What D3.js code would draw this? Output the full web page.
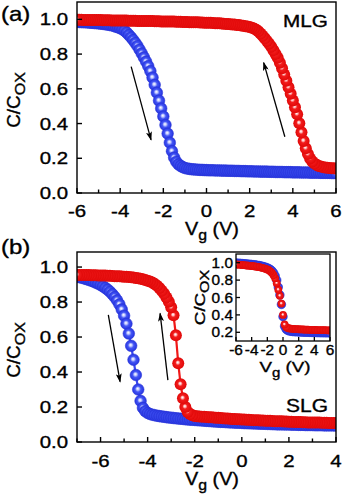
<!DOCTYPE html>
<html>
<head>
<meta charset="utf-8">
<script src="https://cdn.jsdelivr.net/npm/d3@7"></script>
<style>
  body { margin: 0; background: #fff; }
  text { font-family: "Liberation Sans", Arial, sans-serif; fill: #000; stroke: #000; stroke-width: 0.35px; }
</style>
</head>
<body>
<div id="chart"></div>
<script>
var width = 343,
    height = 500;

// ---- data -------------------------------------------------------------
// gate voltage sweeps (V)
var vgA  = d3.range(-60, 61).map(function(i) { return i / 10; });   // -6 .. 6
var vgB  = d3.range(-70, 41).map(function(i) { return i / 10; });   // -7 .. 4
var vgIn = d3.range(-30, 31).map(function(i) { return i / 5; });    // -6 .. 6

// (a) MLG, forward sweep (blue)
var mlgFwd = [
  0.985,0.985,0.984,0.984,0.983,0.982,0.981,0.980,0.979,0.978,
  0.977,0.975,0.974,0.972,0.970,0.968,0.966,0.962,0.958,0.954,
  0.949,0.943,0.935,0.924,0.911,0.897,0.882,0.865,0.847,0.826,
  0.804,0.781,0.757,0.731,0.702,0.665,0.623,0.578,0.532,0.487,
  0.441,0.392,0.342,0.290,0.241,0.204,0.180,0.165,0.156,0.149,
  0.144,0.141,0.139,0.137,0.136,0.135,0.134,0.133,0.133,0.132,
  0.132,
  0.131,0.131,0.131,0.130,0.130,0.130,0.129,0.129,0.129,0.128,
  0.128,0.128,0.127,0.127,0.127,0.126,0.126,0.126,0.125,0.125,
  0.125,0.124,0.124,0.124,0.123,0.123,0.123,0.123,0.122,0.122,
  0.122,0.121,0.121,0.121,0.121,0.120,0.120,0.120,0.120,0.119,
  0.119,0.119,0.119,0.118,0.118,0.118,0.118,0.117,0.117,0.117,
  0.117,0.117,0.116,0.116,0.116,0.116,0.116,0.115,0.115,0.115
];
// (a) MLG, backward sweep (red)
var mlgRev = [
  0.998,0.998,0.998,0.997,0.997,0.997,0.997,0.996,0.996,0.996,
  0.996,0.996,0.995,0.995,0.995,0.995,0.994,0.994,0.994,0.994,
  0.993,
  0.993,0.993,0.993,0.992,0.992,0.992,0.992,0.991,0.991,0.991,
  0.991,0.990,0.990,0.990,0.990,0.989,0.989,0.989,0.988,0.988,
  0.988,0.988,0.987,0.987,0.987,0.986,0.986,0.986,0.985,0.985,
  0.985,0.984,0.984,0.984,0.983,0.983,0.982,0.982,0.981,0.981,
  0.980,0.980,0.979,0.978,0.978,0.977,0.976,0.975,0.974,0.973,
  0.972,0.971,0.970,0.968,0.967,0.965,0.963,0.961,0.959,0.956,
  0.952,0.947,0.940,0.931,0.918,0.905,0.891,0.876,0.860,0.842,
  0.822,0.801,0.779,0.750,0.718,0.683,0.647,0.609,0.572,0.533,
  0.494,0.454,0.402,0.350,0.300,0.258,0.224,0.199,0.182,0.170,
  0.162,0.156,0.152,0.149,0.147,0.145,0.144,0.143,0.142,0.141
];

// (b) SLG, forward sweep (blue)
var slgFwd = [
  0.945,
  0.942,0.939,0.935,0.931,0.927,0.922,0.917,0.911,0.905,0.898,
  0.890,0.881,0.871,0.859,0.845,0.829,0.810,0.787,0.758,0.722,
  0.676,0.620,0.550,0.470,0.383,0.300,0.235,0.195,0.176,0.166,
  0.160,0.156,0.153,0.150,0.148,0.146,0.144,0.142,0.140,0.139,
  0.137,0.136,0.134,0.133,0.132,0.130,0.129,0.128,0.127,0.126,
  0.125,0.124,0.123,0.122,0.121,0.120,0.119,0.118,0.117,0.116,
  0.115,0.115,0.114,0.113,0.112,0.112,0.111,0.110,0.110,0.109,
  0.108,0.108,0.107,0.107,0.106,0.106,0.105,0.105,0.104,0.104,
  0.103,0.103,0.102,0.102,0.101,0.101,0.101,0.100,0.100,0.100,
  0.099,0.099,0.099,0.098,0.098,0.098,0.097,0.097,0.097,0.097,
  0.096,0.096,0.096,0.096,0.095,0.095,0.095,0.095,0.095,0.094
];
// (b) SLG, backward sweep (red)
var slgRev = [
  0.955,
  0.955,0.955,0.954,0.954,0.954,0.953,0.953,0.953,0.952,0.952,
  0.951,0.951,0.950,0.950,0.949,0.948,0.948,0.947,0.946,0.945,
  0.944,0.943,0.941,0.940,0.938,0.936,0.933,0.930,0.926,0.922,
  0.917,0.911,0.903,0.893,0.880,0.865,0.847,0.826,0.802,0.770,
  0.724,0.610,0.450,0.330,0.250,0.200,0.172,0.160,0.153,0.149,
  0.147,0.146,0.145,0.144,0.143,0.142,0.141,0.140,0.139,0.138,
  0.137,0.136,0.135,0.134,0.133,0.132,0.131,0.130,0.130,0.129,
  0.128,0.127,0.127,0.126,0.125,0.125,0.124,0.123,0.123,0.122,
  0.121,0.121,0.120,0.119,0.119,0.118,0.118,0.117,0.117,0.116,
  0.116,0.115,0.115,0.114,0.114,0.113,0.113,0.112,0.112,0.112,
  0.111,0.111,0.111,0.110,0.110,0.110,0.109,0.109,0.109,0.108
];

// (b) inset, forward (blue) and backward (red)
var insFwd = [
  0.995,0.994,0.993,0.991,0.990,0.988,0.987,0.985,0.983,0.981,
  0.979,0.977,0.975,0.972,0.969,0.966,0.962,0.958,0.953,0.947,
  0.940,0.932,0.921,0.906,0.884,0.850,0.800,0.720,0.630,0.520,
  0.380,0.270,0.235,0.222,0.216,0.212,0.210,0.208,0.207,0.206,
  0.205,0.204,0.203,0.202,0.202,0.201,0.200,0.200,0.199,0.199,
  0.198,0.198,0.197,0.197,0.196,0.196,0.196,0.195,0.195,0.195,0.194
];
var insRev = [
  0.980,0.979,0.977,0.976,0.974,0.972,0.970,0.968,0.966,0.964,
  0.962,0.960,0.957,0.954,0.951,0.948,0.944,0.940,0.935,0.929,
  0.922,0.913,0.900,0.882,0.857,0.820,0.765,0.690,0.620,0.530,
  0.400,0.290,0.260,0.250,0.245,0.242,0.240,0.238,0.237,0.236,
  0.235,0.234,0.233,0.232,0.231,0.230,0.230,0.229,0.228,0.228,
  0.227,0.227,0.226,0.226,0.225,0.225,0.224,0.224,0.223,0.223,0.222
];

// sweep-direction arrows, in data units [x1, y1, x2, y2]
var arrowsA = [[-3.49, 0.728, -2.57, 0.306], [3.63, 0.324, 2.65, 0.751]];
var arrowsB = [[-5.67, 0.726, -5.17, 0.345], [-3.14, 0.354, -3.47, 0.735]];

// ticks
var xTicksA  = [-6, -4, -2, 0, 2, 4, 6],
    xMinorA  = [-5, -3, -1, 1, 3, 5],
    xTicksB  = [-6, -4, -2, 0, 2, 4],
    xMinorB  = [-7, -5, -3, -1, 1, 3],
    yTicks   = [0, 0.2, 0.4, 0.6, 0.8, 1.0],
    xTicksIn = [-6, -4, -2, 0, 2, 4, 6],
    yTicksIn = [0.2, 0.4, 0.6, 0.8, 1.0];

// ---- svg --------------------------------------------------------------
var svg = d3.select("#chart").append("svg")
    .attr("width", width)
    .attr("height", height);

svg.append("rect").attr("width", width).attr("height", height).attr("fill", "#fff");

var defs = svg.append("defs");

function ball(id, stops) {
  var g = defs.append("radialGradient").attr("id", id)
      .attr("cx", 0.5).attr("cy", 0.5).attr("r", 0.5)
      .attr("fx", 0.45).attr("fy", 0.42);
  stops.forEach(function(s) {
    g.append("stop").attr("offset", s[0]).attr("stop-color", s[1]);
  });
}
ball("redBall",  [[0, "#ffffff"], [0.18, "#ffc0c0"], [0.42, "#f21c1c"], [1, "#e00808"]]);
ball("blueBall", [[0, "#ffffff"], [0.22, "#c4ccff"], [0.5, "#4456f4"], [1, "#2433e0"]]);

defs.append("marker")
    .attr("id", "head")
    .attr("markerUnits", "userSpaceOnUse")
    .attr("markerWidth", 9).attr("markerHeight", 6)
    .attr("refX", 8).attr("refY", 3)
    .attr("orient", "auto")
  .append("path")
    .attr("d", "M0,0 L9,3 L0,6 L2,3 Z")
    .attr("fill", "#000");

// helper: stretched text (the figure is wider than tall)
function label(g, x, y, str, size, anchor, sx) {
  return g.append("text")
      .attr("transform", "translate(" + x + "," + y + ") scale(" + sx + ",1)")
      .attr("text-anchor", anchor)
      .style("font-size", size + "px")
      .text(str);
}

function xTitle(g, x, y, size, sx) {
  var t = g.append("text")
      .attr("transform", "translate(" + x + "," + y + ") scale(" + sx + ",1)")
      .attr("text-anchor", "middle")
      .style("font-size", size + "px");
  t.append("tspan").text("V");
  t.append("tspan").attr("dy", size * 0.3).style("font-size", (size * 0.8) + "px").text("g");
  t.append("tspan").attr("dy", -size * 0.3).text(" (V)");
}

function yTitle(g, x, y, size, sx) {
  var t = g.append("text")
      .attr("transform", "translate(" + x + "," + y + ") rotate(-90) scale(" + sx + ",1)")
      .attr("text-anchor", "middle")
      .style("font-size", size + "px");
  t.append("tspan").text("C/C");
  t.append("tspan").attr("dy", size * 0.25).style("font-size", (size * 0.85) + "px").text("OX");
}

var clipN = 0;
function panel(box, xDom, yDom) {
  var x = d3.scaleLinear().domain(xDom).range([box.l, box.r]);
  var y = d3.scaleLinear().domain(yDom).range([box.b, box.t]);
  var id = "clip" + (clipN++);
  defs.append("clipPath").attr("id", id).append("rect")
      .attr("x", box.l).attr("y", box.t)
      .attr("width", box.r - box.l).attr("height", box.b - box.t);
  var g = svg.append("g");
  g.append("rect")
      .attr("x", box.l).attr("y", box.t)
      .attr("width", box.r - box.l).attr("height", box.b - box.t)
      .attr("fill", "#fff");
  var plot = g.append("g").attr("clip-path", "url(#" + id + ")");
  return { x: x, y: y, g: g, plot: plot, box: box };
}

function series(p, vg, vals, r, fill, reverse, lineColor) {
  var pts = vals.map(function(v, i) { return [vg[i], v]; });
  if (lineColor) {
    p.plot.append("path")
        .datum(pts)
        .attr("fill", "none")
        .attr("stroke", lineColor)
        .attr("stroke-width", 2.2)
        .attr("d", d3.line().x(function(d) { return p.x(d[0]); }).y(function(d) { return p.y(d[1]); }));
  }
  if (reverse) pts = pts.slice().reverse();
  p.plot.selectAll(null)
      .data(pts)
    .enter().append("circle")
      .attr("cx", function(d) { return p.x(d[0]); })
      .attr("cy", function(d) { return p.y(d[1]); })
      .attr("r", r)
      .attr("fill", "url(#" + fill + ")")
      .attr("stroke", fill == "blueBall" ? "#2a36d8" : "none")
      .attr("stroke-width", 0.6);
}

function arrows(p, list) {
  p.g.selectAll(null)
      .data(list)
    .enter().append("line")
      .attr("x1", function(d) { return p.x(d[0]); })
      .attr("y1", function(d) { return p.y(d[1]); })
      .attr("x2", function(d) { return p.x(d[2]); })
      .attr("y2", function(d) { return p.y(d[3]); })
      .attr("stroke", "#000")
      .attr("stroke-width", 1.3)
      .attr("marker-end", "url(#head)");
}

function frame(p, o) {
  var b = p.box, g = p.g;
  g.append("rect")
      .attr("x", b.l).attr("y", b.t)
      .attr("width", b.r - b.l).attr("height", b.b - b.t)
      .attr("fill", "none").attr("stroke", "#000").attr("stroke-width", o.sw);

  // x ticks (inward)
  g.selectAll(null).data(o.xTicks).enter().append("line")
      .attr("x1", function(d) { return p.x(d); }).attr("x2", function(d) { return p.x(d); })
      .attr("y1", b.b).attr("y2", b.b - o.major)
      .attr("stroke", "#000").attr("stroke-width", o.sw);
  g.selectAll(null).data(o.xMinor || []).enter().append("line")
      .attr("x1", function(d) { return p.x(d); }).attr("x2", function(d) { return p.x(d); })
      .attr("y1", b.b).attr("y2", b.b - o.minor)
      .attr("stroke", "#000").attr("stroke-width", o.sw);
  // y ticks (inward)
  g.selectAll(null).data(o.yTicks).enter().append("line")
      .attr("y1", function(d) { return p.y(d); }).attr("y2", function(d) { return p.y(d); })
      .attr("x1", b.l).attr("x2", b.l + o.major)
      .attr("stroke", "#000").attr("stroke-width", o.sw);

  o.xTicks.forEach(function(d) {
    label(g, p.x(d), b.b + o.xOff, String(d), o.fs, "middle", o.sx);
  });
  o.yTicks.forEach(function(d) {
    label(g, b.l - o.yGap, p.y(d) + o.fs * 0.36, d.toFixed(1), o.fs, "end", o.sx);
  });
}

// ---- (a) MLG ----------------------------------------------------------
var pa = panel({ l: 77, r: 336, t: 2, b: 193 }, [-6, 6], [0, 1.1]);
series(pa, vgA, mlgFwd, 5.8, "blueBall", false);
series(pa, vgA, mlgRev, 6, "redBall", true);
arrows(pa, arrowsA);
frame(pa, { xTicks: xTicksA, xMinor: xMinorA, yTicks: yTicks, major: 5, minor: 3.5,
            sw: 1.4, fs: 17, sx: 1.2, xOff: 24, yGap: 9 });
label(svg, 328, 27, "MLG", 17, "end", 1.22);
label(svg, 1, 21, "(a)", 20, "start", 1.2);
xTitle(svg, 212, 235, 18, 1.1);
yTitle(svg, 20, 100, 18, 1.05);

// ---- (b) SLG ----------------------------------------------------------
var pb = panel({ l: 77, r: 336, t: 252, b: 442 }, [-7, 4], [0, 1.086]);
series(pb, vgB, slgFwd, 5.8, "blueBall", false, "#3a48f0");
series(pb, vgB, slgRev, 6, "redBall", true, "#f01818");
arrows(pb, arrowsB);
frame(pb, { xTicks: xTicksB, xMinor: xMinorB, yTicks: yTicks, major: 5, minor: 3.5,
            sw: 1.4, fs: 17, sx: 1.2, xOff: 25, yGap: 9 });
label(svg, 328, 412, "SLG", 17.5, "end", 1.2);
label(svg, 1, 254, "(b)", 20, "start", 1.2);
xTitle(svg, 212, 485, 18, 1.1);
yTitle(svg, 20, 350, 18, 1.05);

// ---- (b) inset --------------------------------------------------------
var pi = panel({ l: 236, r: 330, t: 254, b: 341 }, [-6, 6], [0.1, 1.1]);
series(pi, vgIn, insFwd, 4.3, "blueBall", false);
series(pi, vgIn, insRev, 3.9, "redBall", true);
frame(pi, { xTicks: xTicksIn, yTicks: yTicksIn, major: 4, minor: 0,
            sw: 1.3, fs: 14, sx: 1.1, xOff: 14, yGap: 3 });
xTitle(svg, 285, 372, 15, 1.25);
yTitle(svg, 205, 297.5, 15, 1.25);
</script>
</body>
</html>
